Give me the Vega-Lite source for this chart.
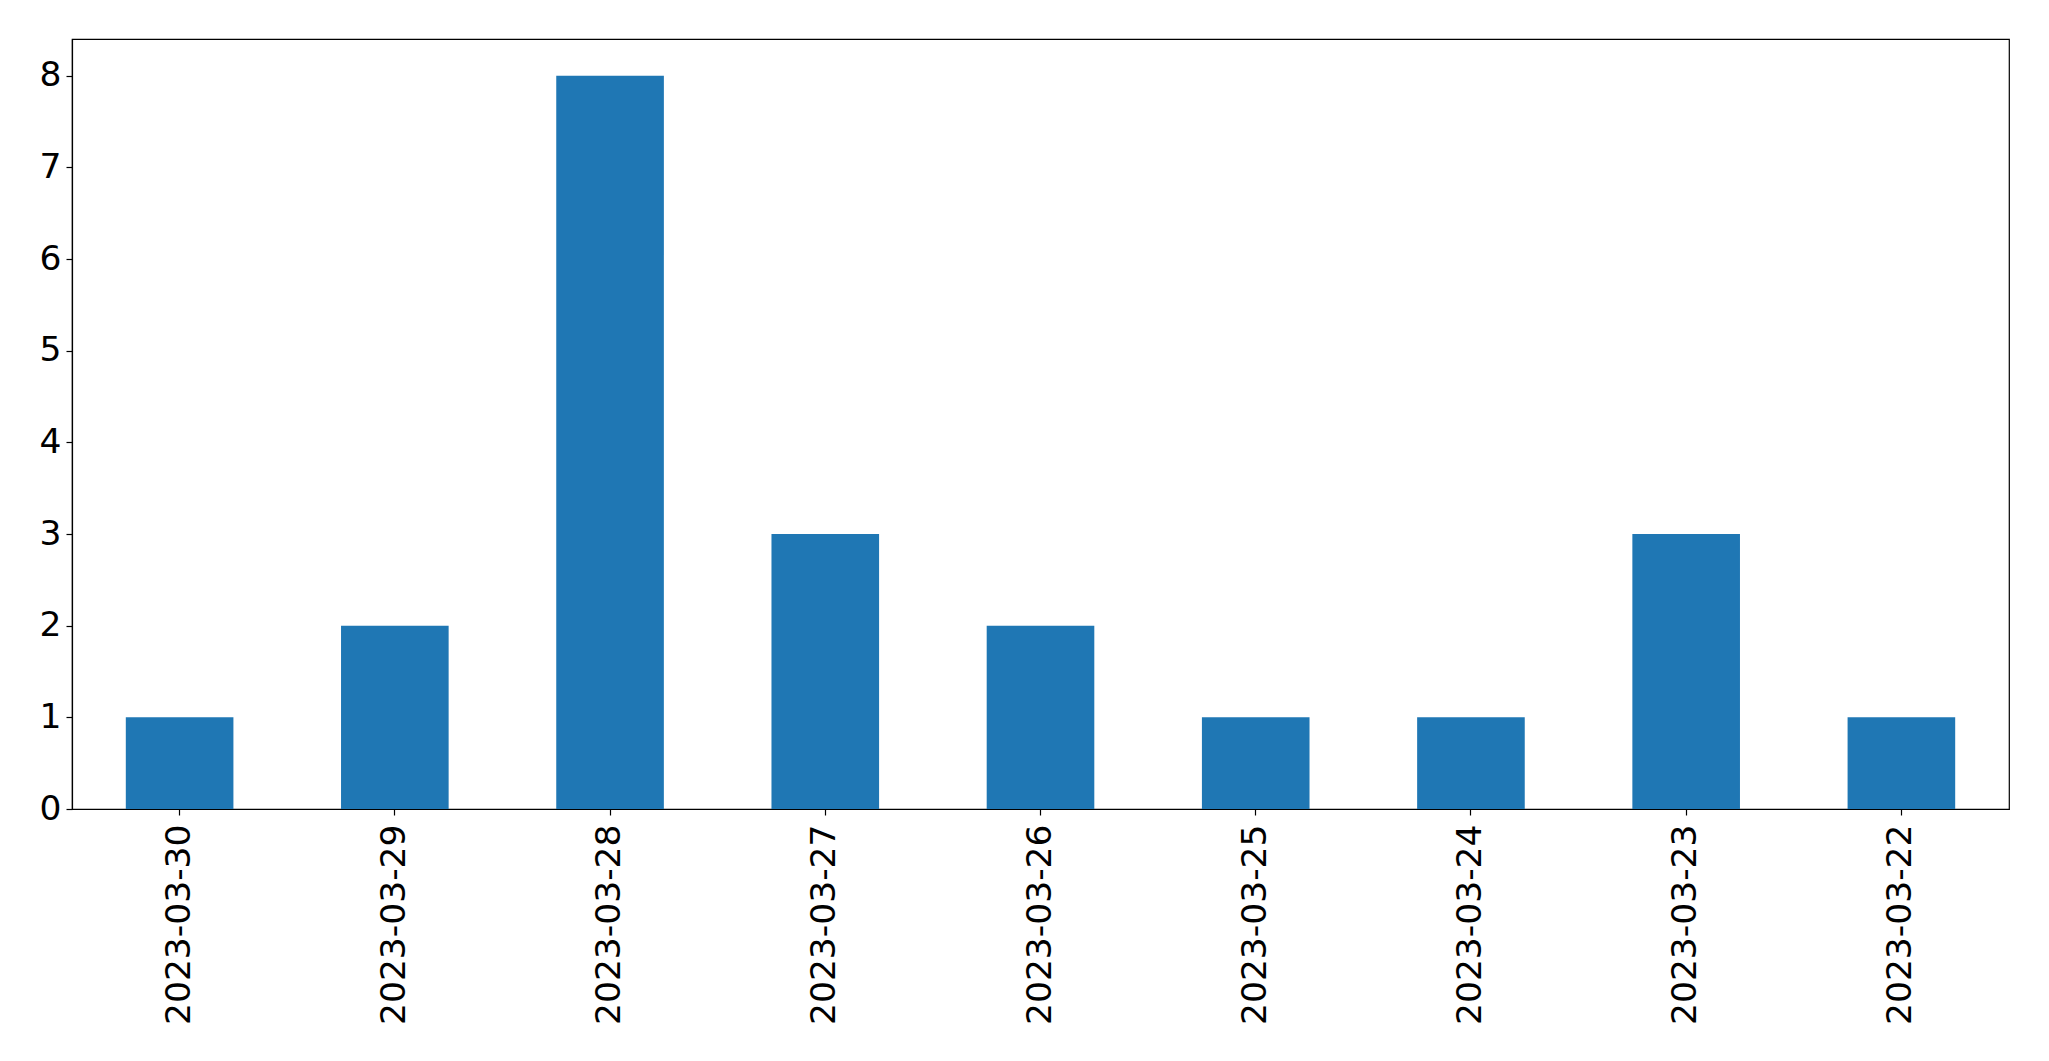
{
  "$schema": "https://vega.github.io/schema/vega-lite/v6.json",
  "autosize": {"type": "none"},
  "padding": {"left": 72, "top": 39, "right": 40, "bottom": 252},
  "width": 1937,
  "height": 770,
  "background": "white",
  "config": {
    "view": {"stroke": "black", "strokeWidth": 1.2},
    "axis": {
      "grid": false,
      "domainColor": "black",
      "domainWidth": 1.2,
      "tickColor": "black",
      "tickWidth": 1.2,
      "tickSize": 6,
      "labelFont": "DejaVu Sans",
      "labelFontSize": 34,
      "labelColor": "black",
      "labelPadding": 5,
      "title": null
    }
  },
  "data": {
    "values": [
      {"date": "2023-03-30", "count": 1},
      {"date": "2023-03-29", "count": 2},
      {"date": "2023-03-28", "count": 8},
      {"date": "2023-03-27", "count": 3},
      {"date": "2023-03-26", "count": 2},
      {"date": "2023-03-25", "count": 1},
      {"date": "2023-03-24", "count": 1},
      {"date": "2023-03-23", "count": 3},
      {"date": "2023-03-22", "count": 1}
    ]
  },
  "mark": {"type": "bar", "color": "#1f77b4"},
  "encoding": {
    "x": {
      "field": "date",
      "type": "nominal",
      "sort": null,
      "scale": {"paddingInner": 0.5, "paddingOuter": 0.25},
      "axis": {"labelAngle": -90, "labelAlign": "right", "labelBaseline": "middle", "labelPadding": 9, "labelFontSize": 34.5, "labelFont": "DejaVu Sans", "labelLimit": 0}
    },
    "y": {
      "field": "count",
      "type": "quantitative",
      "scale": {"domain": [0, 8.4], "nice": false},
      "axis": {"values": [0, 1, 2, 3, 4, 5, 6, 7, 8], "labelBaseline": "middle", "labelFontSize": 34.5, "labelFont": "DejaVu Sans", "labelPadding": 5}
    }
  }
}
